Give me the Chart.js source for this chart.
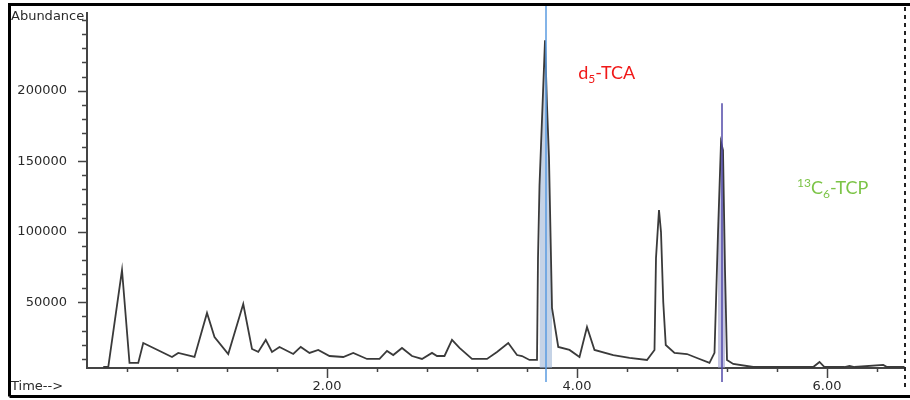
<!DOCTYPE html>
<html>
<head>
<meta charset="utf-8">
<script src="https://cdn.jsdelivr.net/npm/chart.js@4.4.0/dist/chart.umd.min.js"></script>
<style>
    html, body { margin: 0; padding: 0; background: #fff; }
</style>
</head>
<body>
<canvas id="tic" width="910" height="400"></canvas>
<script>
// Хроматограмма (TIC): время удерживания, мин
const times = [
    0.21, 0.25, 0.36, 0.42, 0.49, 0.53, 0.76, 0.81, 0.94, 1.04,
    1.10, 1.21, 1.33, 1.40, 1.45, 1.51, 1.56, 1.62, 1.73, 1.79,
    1.86, 1.93, 2.02, 2.13, 2.21, 2.32, 2.42, 2.48, 2.53, 2.60,
    2.68, 2.76, 2.84, 2.88, 2.94, 3.00, 3.06, 3.16, 3.28, 3.36,
    3.45, 3.52, 3.56, 3.62, 3.68, 3.688, 3.70, 3.744, 3.76, 3.776,
    3.80, 3.85, 3.94, 4.02, 4.08, 4.14, 4.29, 4.42, 4.56, 4.62,
    4.632, 4.656, 4.672, 4.69, 4.71, 4.78, 4.88, 4.96, 5.06, 5.10,
    5.128, 5.152, 5.168, 5.184, 5.20, 5.25, 5.41, 5.89, 5.94, 5.98,
    6.14, 6.18, 6.22, 6.45, 6.48, 6.62,
];
// Abundance
const abundance = [
    4200, 4200, 72900, 7100, 7100, 21200, 11300, 14200, 11300, 42500,
    25500, 13400, 48800, 17000, 14900, 23400, 14900, 18400, 13400, 18400,
    14200, 16300, 12000, 11300, 14200, 9900, 9900, 15600, 12700, 17700,
    12000, 9900, 14200, 12000, 12000, 23400, 17700, 9900, 9900, 14900,
    21200, 12700, 12000, 9200, 9200, 81400, 133000, 235700, 189700, 152200,
    46000, 18400, 16300, 11300, 32600, 16300, 12700, 10600, 9200, 16300,
    81400, 115400, 99800, 50200, 19800, 14200, 13400, 10600, 7100, 14200,
    99100, 163500, 157800, 72900, 9200, 6400, 4200, 4200, 7800, 4200,
    4200, 5000, 4200, 5700, 4200, 4200,
];

// интегрированные пики (границы по времени)
const tcaRange = [3.69, 3.80];
const tcpRange = [5.11, 5.19];
// вертикальные маркеры: время и высота
const tcaMarker = { t: 3.752, top: 260400, bottom: -6400 };
const tcpMarker = { t: 5.16, top: 191000, bottom: -6400 };
// подписи соединений: положение в координатах данных
const tcaLabel = { t: 4.01, a: 208000 };
const tcpLabel = { t: 5.76, a: 126700 };

// оси
const xMin = 0.08, xMax = 6.624;
const yMin = 3500, yMax = 255000;
const xTicks = [0.4, 0.8, 1.2, 1.6, 2.0, 2.4, 2.8, 3.2, 3.6, 4.0, 4.4, 4.8, 5.2, 5.6, 6.0, 6.4];
const xLabels = [2.0, 4.0, 6.0];
const yTicks = [
    10000, 20000, 30000, 40000, 50000, 60000, 70000, 80000, 90000, 100000,
    110000, 120000, 130000, 140000, 150000, 160000, 170000, 180000, 190000, 200000,
    210000, 220000, 230000, 240000, 250000,
];
const yLabels = [50000, 100000, 150000, 200000];

const points = times.map((t, i) => ({ x: t, y: abundance[i] }));
const inRange = (r) => points.filter((p) => p.x >= r[0] && p.x <= r[1]);

const isLabel = (list, v) => list.some((l) => Math.abs(l - v) < 1e-6);

const overlay = {
    id: "overlay",
    afterDraw(chart) {
        const ctx = chart.ctx;
        const area = chart.chartArea;
        const xs = chart.scales.x;
        const ys = chart.scales.y;
        ctx.save();

        // рамка
        ctx.strokeStyle = "#000";
        ctx.lineWidth = 3;
        ctx.beginPath();
        ctx.moveTo(9.5, 396.5);
        ctx.lineTo(9.5, 4.5);
        ctx.lineTo(912, 4.5);
        ctx.moveTo(9.5, 396.5);
        ctx.lineTo(912, 396.5);
        ctx.stroke();

        // пунктир справа
        ctx.strokeStyle = "#222";
        ctx.lineWidth = 2;
        ctx.setLineDash([4, 4]);
        ctx.beginPath();
        ctx.moveTo(area.right, 7);
        ctx.lineTo(area.right, 388);
        ctx.stroke();
        ctx.setLineDash([]);

        // засечки
        ctx.strokeStyle = "#444";
        ctx.lineWidth = 1.5;
        ctx.beginPath();
        xTicks.forEach((v) => {
            const px = Math.round(xs.getPixelForValue(v)) + 0.5;
            const len = isLabel(xLabels, v) ? 10 : 4;
            ctx.moveTo(px, area.bottom);
            ctx.lineTo(px, area.bottom + len);
        });
        yTicks.forEach((v) => {
            const py = Math.round(ys.getPixelForValue(v)) + 0.5;
            const len = isLabel(yLabels, v) ? 9 : 5;
            ctx.moveTo(area.left, py);
            ctx.lineTo(area.left - len, py);
        });
        ctx.stroke();

        // подписи осей
        ctx.fillStyle = "#2a2a2a";
        ctx.font = "13px 'DejaVu Sans'";
        ctx.textBaseline = "middle";
        ctx.textAlign = "left";
        ctx.fillText("Abundance", 11, 17);
        ctx.fillText("Time-->", 11, 387);

        // d5-TCA
        ctx.textBaseline = "alphabetic";
        let x = xs.getPixelForValue(tcaLabel.t);
        let y = ys.getPixelForValue(tcaLabel.a);
        ctx.fillStyle = "#f01818";
        ctx.font = "18px Lato";
        ctx.fillText("d", x, y);
        x += ctx.measureText("d").width;
        ctx.font = "12px Lato";
        ctx.fillText("5", x, y + 4);
        x += ctx.measureText("5").width;
        ctx.font = "18px Lato";
        ctx.fillText("-TCA", x, y);

        // 13C6-TCP
        x = xs.getPixelForValue(tcpLabel.t);
        y = ys.getPixelForValue(tcpLabel.a);
        ctx.fillStyle = "#7cc447";
        ctx.font = "12px Lato";
        ctx.fillText("13", x, y - 7);
        x += ctx.measureText("13").width;
        ctx.font = "18px Lato";
        ctx.fillText("C", x, y);
        x += ctx.measureText("C").width;
        ctx.font = "12px Lato";
        ctx.fillText("6", x, y + 4);
        x += ctx.measureText("6").width;
        ctx.font = "18px Lato";
        ctx.fillText("-TCP", x, y);

        ctx.restore();
    },
};

Chart.defaults.font.family = "'DejaVu Sans'";
Chart.defaults.font.size = 13;
Chart.defaults.color = "#2a2a2a";

new Chart(document.getElementById("tic"), {
    type: "line",
    data: {
        datasets: [
            {
                label: "d5-TCA",
                data: [
                    { x: tcaMarker.t, y: tcaMarker.bottom },
                    { x: tcaMarker.t, y: tcaMarker.top },
                ],
                borderColor: "#5a9be0",
                borderWidth: 1.5,
                pointRadius: 0,
                clip: false,
            },
            {
                label: "13C6-TCP",
                data: [
                    { x: tcpMarker.t, y: tcpMarker.bottom },
                    { x: tcpMarker.t, y: tcpMarker.top },
                ],
                borderColor: "#5048a8",
                borderWidth: 1.5,
                pointRadius: 0,
                clip: false,
            },
            {
                label: "TIC",
                data: points,
                borderColor: "#3a3a3a",
                borderWidth: 1.8,
                pointRadius: 0,
                tension: 0,
            },
            {
                label: "TCA area",
                data: inRange(tcaRange),
                borderWidth: 0,
                backgroundColor: "rgba(150, 175, 210, 0.55)",
                fill: { value: yMin },
                pointRadius: 0,
            },
            {
                label: "TCP area",
                data: inRange(tcpRange),
                borderWidth: 0,
                backgroundColor: "rgba(150, 150, 200, 0.55)",
                fill: { value: yMin },
                pointRadius: 0,
            },
        ],
    },
    options: {
        responsive: false,
        animation: false,
        layout: { padding: { top: 13, right: 5, left: 0, bottom: 0 } },
        plugins: {
            legend: { display: false },
            tooltip: { enabled: false },
        },
        scales: {
            x: {
                type: "linear",
                min: xMin,
                max: xMax,
                afterBuildTicks: (s) => {
                    s.ticks = xTicks.map((v) => ({ value: v }));
                },
                afterFit: (s) => {
                    s.height = 32;
                    s.paddingLeft = 0;
                    s.paddingRight = 0;
                },
                ticks: {
                    autoSkip: false,
                    maxRotation: 0,
                    padding: 11,
                    callback: (v) => (isLabel(xLabels, v) ? v.toFixed(2) : ""),
                },
                grid: { display: false, drawTicks: false },
                border: { color: "#444", width: 2 },
            },
            y: {
                type: "linear",
                min: yMin,
                max: yMax,
                afterBuildTicks: (s) => {
                    s.ticks = yTicks.map((v) => ({ value: v }));
                },
                afterFit: (s) => {
                    s.width = 87;
                    s.paddingTop = 0;
                    s.paddingBottom = 0;
                },
                ticks: {
                    autoSkip: false,
                    padding: 20,
                    callback: (v) => (isLabel(yLabels, v) ? String(v) : ""),
                },
                grid: { display: false, drawTicks: false },
                border: { color: "#444", width: 2 },
            },
        },
    },
    plugins: [overlay],
});
</script>
</body>
</html>
